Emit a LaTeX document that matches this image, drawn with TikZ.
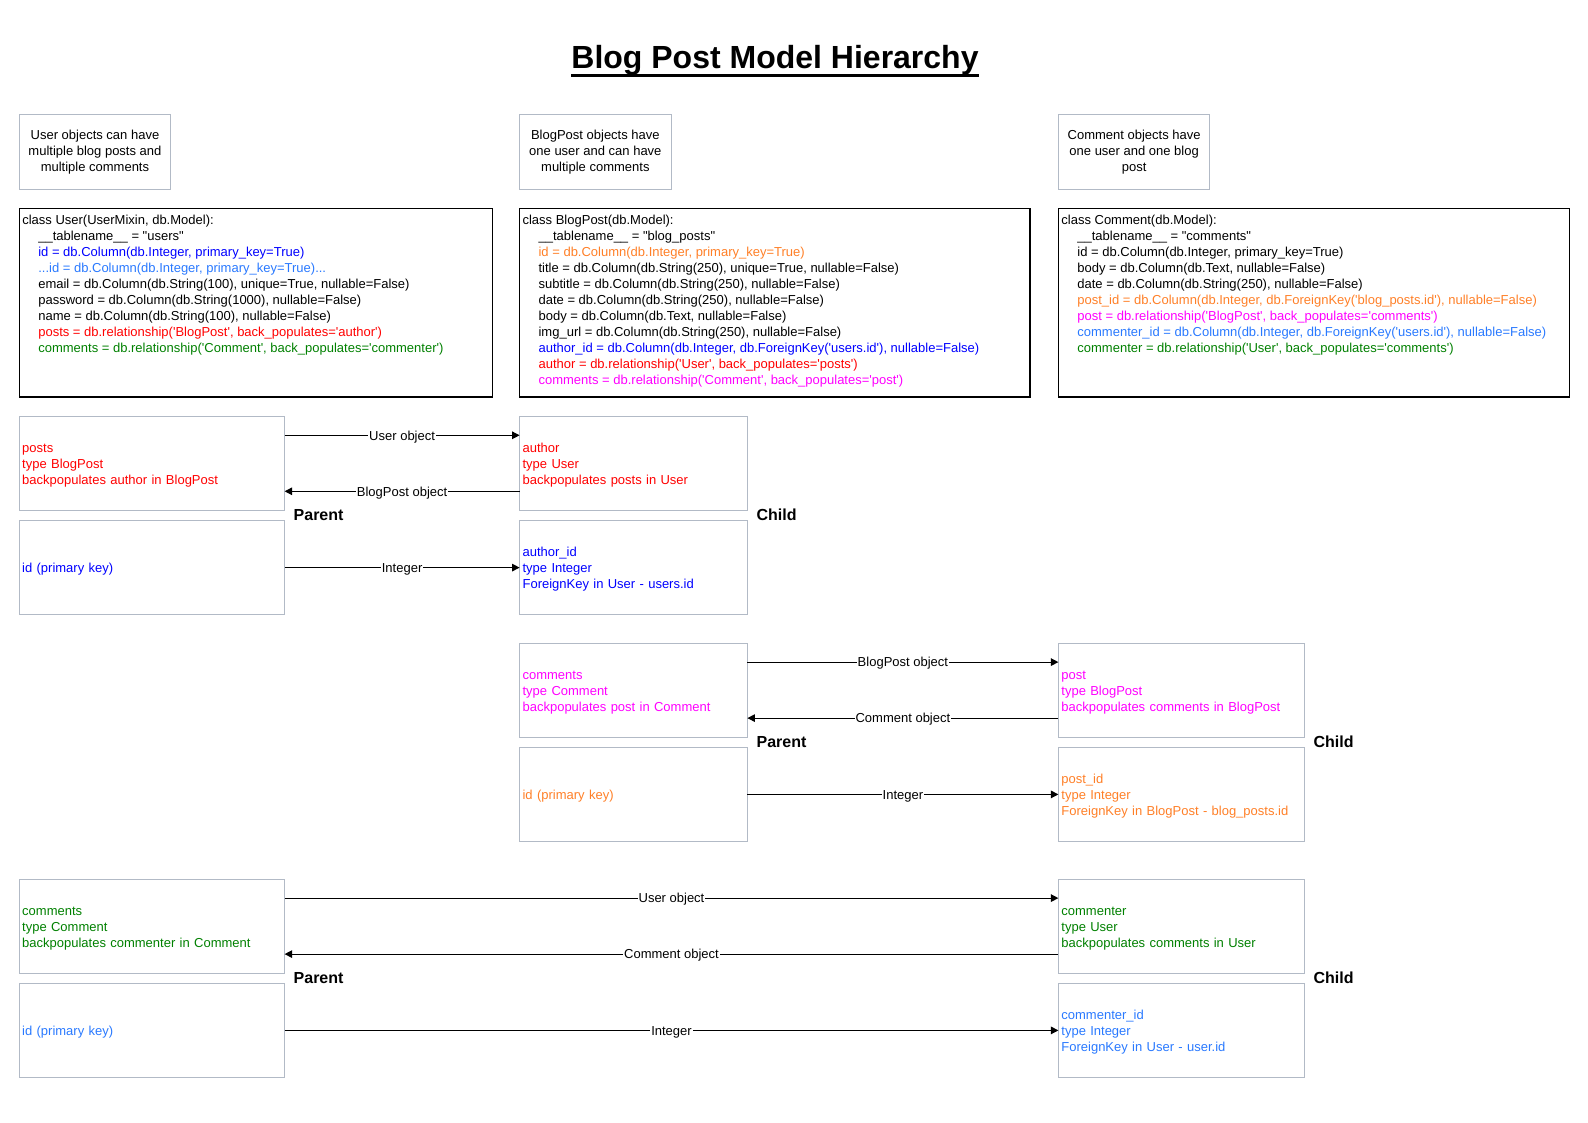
\documentclass[tikz,border=0pt]{standalone}
\usepackage{fontspec}
\setmainfont{Liberation Sans}[Ligatures=TeXOff]
\usetikzlibrary{arrows.meta}

\definecolor{edgegray}{RGB}{178,186,198}
\definecolor{cred}{RGB}{255,0,0}
\definecolor{cblue}{RGB}{0,0,255}
\definecolor{clight}{RGB}{41,121,255}
\definecolor{cgreen}{RGB}{0,128,0}
\definecolor{corange}{RGB}{255,127,39}
\definecolor{cmag}{RGB}{255,0,255}

\newcommand{\codeindent}{\hspace*{16pt}}

\begin{document}
\begin{tikzpicture}[x=1pt,y=-1pt,
  every node/.style={inner sep=0pt, outer sep=0pt},
  txt/.style={font=\fontsize{13}{16}\selectfont},
  notebox/.style={draw=edgegray, line width=1pt, txt, align=center,
    minimum width=151.5pt, minimum height=75pt, anchor=north west},
  codebox/.style={draw=black, line width=1.2pt, minimum height=188.4pt,
    minimum width=#1, anchor=north west},
  codetext/.style={txt, align=left, anchor=north west},
  fieldbox/.style={draw=edgegray, line width=1pt, txt, align=left,
    inner xsep=3pt, inner ysep=0pt, text width=#1, minimum height=94pt,
    anchor=north west},
  conn/.style={line width=1.2pt, -{Triangle[length=7.5pt,width=7.5pt]}},
  lbl/.style={txt, fill=white, inner xsep=1pt, inner ysep=1pt, yshift=-1.5pt},
  role/.style={font=\fontsize{16}{19}\selectfont\bfseries, anchor=west}
]
\useasboundingbox (0,0) rectangle (1588,1123);

% Title
\node[font=\fontsize{32}{38}\selectfont\bfseries, anchor=base] (title) at (775,69) {Blog Post Model Hierarchy};
\draw[line width=3pt] ([yshift=-6.5pt]title.base west) -- ([yshift=-6.5pt]title.base east);

% Notes
\node[notebox] (noteUser) at (19.2,114.4) {User objects can have\\multiple blog posts and\\multiple comments};
\node[notebox] (notePost) at (519.6,114.4) {BlogPost objects have\\one user and can have\\multiple comments};
\node[notebox] (noteComment) at (1058.4,114.4) {Comment objects have\\one user and one blog\\post};

% Model classes
\node[codebox=473pt] (codeUser) at (19.2,208.6) {};
\node[codetext] (codeUserText) at ([xshift=3.1pt,yshift=-5pt]codeUser.north west) {%
\strut class User(UserMixin, db.Model):\\
\codeindent\_\_tablename\_\_ = "users"\\
\codeindent\textcolor{cblue}{id = db.Column(db.Integer, primary\_key=True)}\\
\codeindent\textcolor{clight}{...id = db.Column(db.Integer, primary\_key=True)...}\\
\codeindent email = db.Column(db.String(100), unique=True, nullable=False)\\
\codeindent password = db.Column(db.String(1000), nullable=False)\\
\codeindent name = db.Column(db.String(100), nullable=False)\\
\codeindent\textcolor{cred}{posts = db.relationship('BlogPost', back\_populates='author')}\\
\codeindent\textcolor{cgreen}{comments = db.relationship('Comment', back\_populates='commenter')}};

\node[codebox=510.4pt] (codePost) at (519.6,208.6) {};
\node[codetext] (codePostText) at ([xshift=3pt,yshift=-5pt]codePost.north west) {%
\strut class BlogPost(db.Model):\\
\codeindent\_\_tablename\_\_ = "blog\_posts"\\
\codeindent\textcolor{corange}{id = db.Column(db.Integer, primary\_key=True)}\\
\codeindent title = db.Column(db.String(250), unique=True, nullable=False)\\
\codeindent subtitle = db.Column(db.String(250), nullable=False)\\
\codeindent date = db.Column(db.String(250), nullable=False)\\
\codeindent body = db.Column(db.Text, nullable=False)\\
\codeindent img\_url = db.Column(db.String(250), nullable=False)\\
\codeindent\textcolor{cblue}{author\_id = db.Column(db.Integer, db.ForeignKey('users.id'), nullable=False)}\\
\codeindent\textcolor{cred}{author = db.relationship('User', back\_populates='posts')}\\
\codeindent\textcolor{cmag}{comments = db.relationship('Comment', back\_populates='post')}};

\node[codebox=511.4pt] (codeComment) at (1058.4,208.6) {};
\node[codetext] (codeCommentText) at ([xshift=3pt,yshift=-5pt]codeComment.north west) {%
\strut class Comment(db.Model):\\
\codeindent\_\_tablename\_\_ = "comments"\\
\codeindent id = db.Column(db.Integer, primary\_key=True)\\
\codeindent body = db.Column(db.Text, nullable=False)\\
\codeindent date = db.Column(db.String(250), nullable=False)\\
\codeindent\textcolor{corange}{post\_id = db.Column(db.Integer, db.ForeignKey('blog\_posts.id'), nullable=False)}\\
\codeindent\textcolor{cmag}{post = db.relationship('BlogPost', back\_populates='comments')}\\
\codeindent\textcolor{clight}{commenter\_id = db.Column(db.Integer, db.ForeignKey('users.id'), nullable=False)}\\
\codeindent\textcolor{cgreen}{commenter = db.relationship('User', back\_populates='comments')}};

% User <-> BlogPost
\node[fieldbox=259.4pt, text=cred] (posts) at (19.2,416.3) {\rule{0pt}{13pt}posts\\type BlogPost\\backpopulates author in BlogPost};
\node[fieldbox=221.8pt, text=cred] (author) at (519.6,416.3) {\rule{0pt}{13pt}author\\type User\\backpopulates posts in User};
\node[fieldbox=259.4pt, text=cblue] (userId) at (19.2,520.6) {\rule{0pt}{13pt}id (primary key)};
\node[fieldbox=221.8pt, text=cblue] (authorId) at (519.6,520.6) {\rule{0pt}{13pt}author\_id\\type Integer\\ForeignKey in User - users.id};
\node[role] (parentA) at (293.7,515) {Parent};
\node[role] (childA) at (756.6,515) {Child};
\draw[conn] ([yshift=28pt]posts.east) -- node[lbl] {User object} ([yshift=28pt]author.west);
\draw[conn] ([yshift=-28pt]author.west) -- node[lbl] {BlogPost object} ([yshift=-28pt]posts.east);
\draw[conn] (userId.east) -- node[lbl] {Integer} (authorId.west);

% BlogPost <-> Comment
\node[fieldbox=221.8pt, text=cmag] (postComments) at (519.6,643.1) {\rule{0pt}{13pt}comments\\type Comment\\backpopulates post in Comment};
\node[fieldbox=240.1pt, text=cmag] (post) at (1058.4,643.1) {\rule{0pt}{13pt}post\\type BlogPost\\backpopulates comments in BlogPost};
\node[fieldbox=221.8pt, text=corange] (postPk) at (519.6,747.4) {\rule{0pt}{13pt}id (primary key)};
\node[fieldbox=240.1pt, text=corange] (postId) at (1058.4,747.4) {\rule{0pt}{13pt}post\_id\\type Integer\\ForeignKey in BlogPost - blog\_posts.id};
\node[role] (parentB) at (756.6,742) {Parent};
\node[role] (childB) at (1313.6,742) {Child};
\draw[conn] ([yshift=28pt]postComments.east) -- node[lbl] {BlogPost object} ([yshift=28pt]post.west);
\draw[conn] ([yshift=-28pt]post.west) -- node[lbl] {Comment object} ([yshift=-28pt]postComments.east);
\draw[conn] (postPk.east) -- node[lbl] {Integer} (postId.west);

% User <-> Comment
\node[fieldbox=259.4pt, text=cgreen] (userComments) at (19.2,879.1) {\rule{0pt}{13pt}comments\\type Comment\\backpopulates commenter in Comment};
\node[fieldbox=240.1pt, text=cgreen] (commenter) at (1058.4,879.1) {\rule{0pt}{13pt}commenter\\type User\\backpopulates comments in User};
\node[fieldbox=259.4pt, text=clight] (userPk) at (19.2,983.4) {\rule{0pt}{13pt}id (primary key)};
\node[fieldbox=240.1pt, text=clight] (commenterId) at (1058.4,983.4) {\rule{0pt}{13pt}commenter\_id\\type Integer\\ForeignKey in User - user.id};
\node[role] (parentC) at (293.7,978) {Parent};
\node[role] (childC) at (1313.6,978) {Child};
\draw[conn] ([yshift=28pt]userComments.east) -- node[lbl] {User object} ([yshift=28pt]commenter.west);
\draw[conn] ([yshift=-28pt]commenter.west) -- node[lbl] {Comment object} ([yshift=-28pt]userComments.east);
\draw[conn] (userPk.east) -- node[lbl] {Integer} (commenterId.west);
\end{tikzpicture}
\end{document}
